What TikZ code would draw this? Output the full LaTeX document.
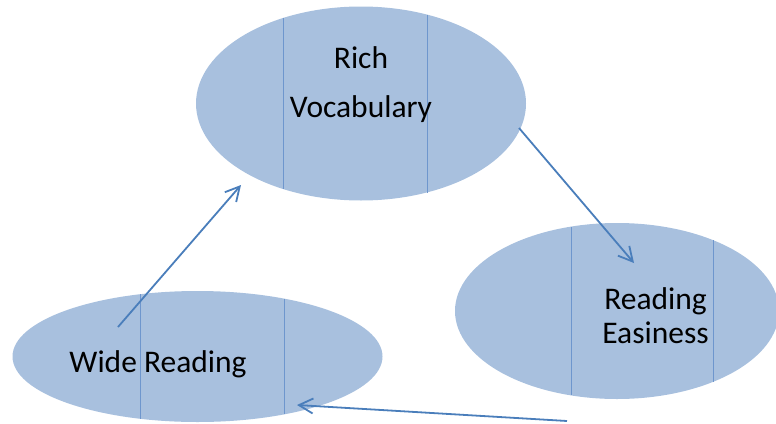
\documentclass[tikz,border=0pt]{standalone}
\usepackage{fontspec}
\setmainfont{Carlito}
\usetikzlibrary{shapes.geometric,arrows.meta}
\definecolor{ellfill}{RGB}{168,192,222}
\definecolor{divline}{RGB}{110,150,205}
\definecolor{arrowblue}{RGB}{74,126,187}
\tikzset{
  bubble/.style={ellipse, fill=ellfill, draw=none, inner sep=0pt},
  divider/.style={draw=divline, line width=0.6pt},
  flow/.style={draw=arrowblue, line width=1.8pt, -{Straight Barb[angle=56:16pt]}},
  lbl/.style={font=\fontsize{31.5}{34}\selectfont, text=black, inner sep=0pt, anchor=base}
}
\begin{document}
\begin{tikzpicture}[x=1pt,y=-1pt]
\useasboundingbox (0,0) rectangle (776,423);
\begin{scope}
\clip (0,0) rectangle (776,423);
% ellipses
\node[bubble, minimum width=330pt, minimum height=194pt] (rv) at (361,103.5) {};
\node[bubble, minimum width=324pt, minimum height=176pt] (re) at (617,311) {};
\node[bubble, minimum width=370pt, minimum height=131pt] (wr) at (197.5,356.5) {};
% dividers
\draw[divider] (283,17.5) -- (283,188.5);
\draw[divider] (427,14.5) -- (427,193);
\draw[divider] (571,227) -- (571,395);
\draw[divider] (713,240) -- (713,382);
\draw[divider] (140,294) -- (140,419);
\draw[divider] (284,299) -- (284,414);
\end{scope}
% labels
\node[lbl] (t1) at (361,68) {Rich};
\node[lbl] (t2) at (361,117) {Vocabulary};
\node[lbl] (t3) at (655.5,309) {Reading};
\node[lbl] (t4) at (655.5,343) {Easiness};
\node[lbl] (t5) at (158,372) {Wide Reading};
% arrow ends
\coordinate (a1s) at (118,327);
\coordinate (a1e) at (241,185);
\coordinate (a2s) at (519,128);
\coordinate (a2e) at (634,263);
\coordinate (a3s) at (567,421);
\coordinate (a3e) at (297,405);
\draw[flow] (a1s) -- (a1e);
\draw[flow] (a2s) -- (a2e);
\draw[flow] (a3s) -- (a3e);
\end{tikzpicture}
\end{document}
